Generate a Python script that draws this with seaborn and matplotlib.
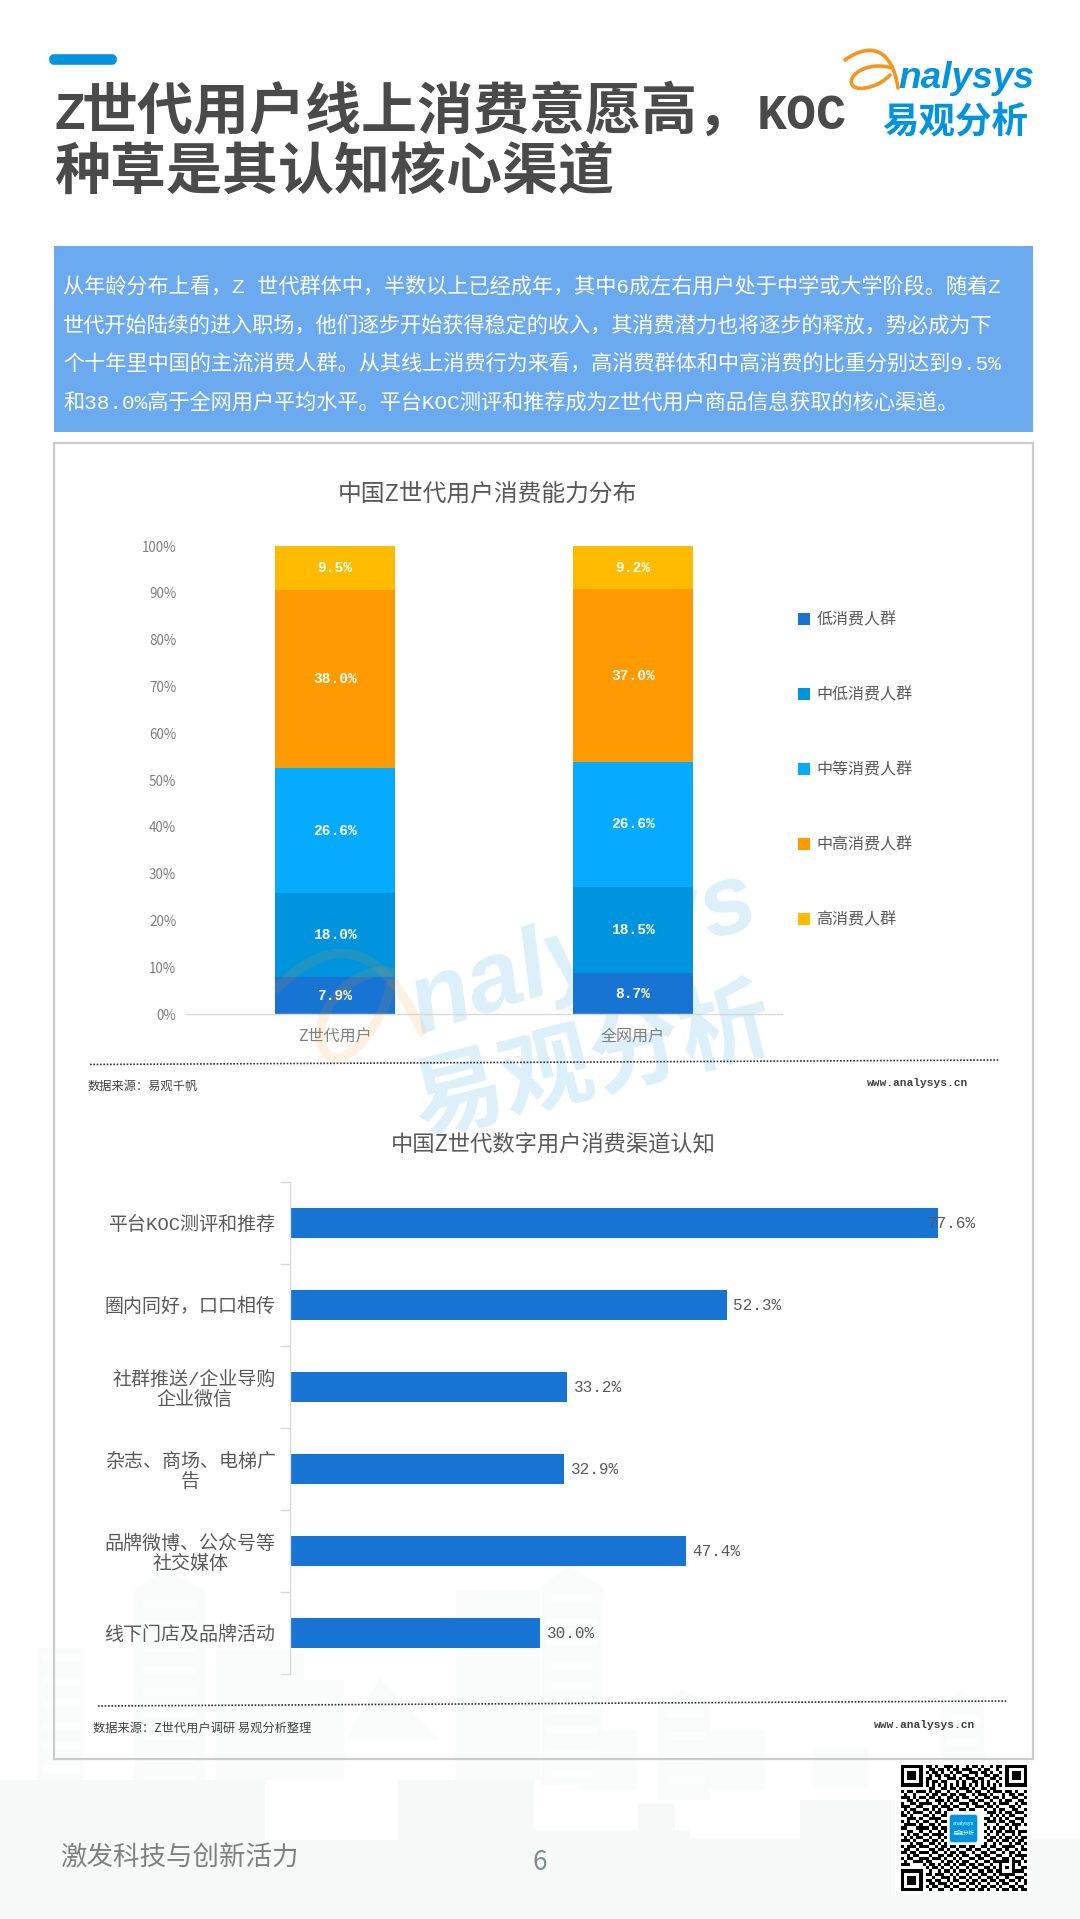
import matplotlib
matplotlib.use("Agg")
import matplotlib.pyplot as plt
import seaborn as sns
import numpy as np
from matplotlib.patches import Rectangle, FancyBboxPatch, PathPatch, Polygon
from matplotlib.path import Path

# chart 1: stacked share by user group
groups = ['Z世代用户', '全网用户']
tiers = ['低消费人群', '中低消费人群', '中等消费人群', '中高消费人群', '高消费人群']
low = [7.9, 8.7]
mid_low = [18.0, 18.5]
mid = [26.6, 26.6]
mid_high = [38.0, 37.0]
high = [9.5, 9.2]
tier_colors = ['#1874D2', '#0094DE', '#06ABFF', '#FF9A00', '#FFBB00']
pct_ticks = [0, 10, 20, 30, 40, 50, 60, 70, 80, 90, 100]

# chart 2: channels
channels = ['平台KOC测评和推荐', '圈内同好\uff0c口口相传', '社群推送/企业导购\n企业微信',
            '杂志、商场、电梯广\n告', '品牌微博、公众号等\n社交媒体', '线下门店及品牌活动']
channel_values = [77.6, 52.3, 33.2, 32.9, 47.4, 30.0]

body_lines = [
    '从年龄分布上看\uff0cZ 世代群体中\uff0c半数以上已经成年\uff0c其中6成左右用户处于中学或大学阶段。随着Z',
    '世代开始陆续的进入职场\uff0c他们逐步开始获得稳定的收入\uff0c其消费潜力也将逐步的释放\uff0c势必成为下',
    '个十年里中国的主流消费人群。从其线上消费行为来看\uff0c高消费群体和中高消费的比重分别达到9.5%',
    '和38.0%高于全网用户平均水平。平台KOC测评和推荐成为Z世代用户商品信息获取的核心渠道。',
]

qr_rows = [
    '11111110110100111010010110100101101111111',
    '10000010011011010110111001011001001000001',
    '10111010101101001011001110110100101011101',
    '10111010010110110100110010011011001011101',
    '10111010110010011101011101100110101011101',
    '10000010101101100010100110101001001000001',
    '11111110101010101010101010101010101111111',
    '00000000011001101101110100110110000000000',
    '10110111010110010010011011001011101101001',
    '01001000101101101101100101110100010110110',
    '11101011011010011010110010011011010011001',
    '00110100100111010110001101100100101100110',
    '10011011110010101001110110011010111001011',
    '11100110001101110110010011101101000110100',
    '01011001101010011001101100010010110011001',
    '10101110010110100000000000001110101101110',
    '11010001101001100000000000000101010110001',
    '00111010011110000000000000011010101001110',
    '10100101100101100000000000001110110110010',
    '01111010011010000000000000010001001011101',
    '11000111101101100000000000001010110101000',
    '00110010010010100000000000010101101110111',
    '10101101101111000000000000001001010010100',
    '01010110010010100000000000010110101101011',
    '11101001101101000000000000001101011010110',
    '00010110011010100000000000010010100101101',
    '10111011100101101101101100110110011110010',
    '01100100011011010010011011001001101001011',
    '11011011101100101101100100110110010110100',
    '00101100010011011010110011011001100101111',
    '10110011101110100101001101100110011010010',
    '01001110110001011010110010011011111011101',
    '11100001011010110101101101100100100010100',
    '00000000101101001010010110011010101010011',
    '11111110010010110101101001101101100011110',
    '10000010110111001010010110110010111110001',
    '10111010001001110101101001001101001001110',
    '10111010110110010110010110110110110110101',
    '10111010011011101001101101001001011001001',
    '10000010101100110110010010110110100110110',
    '11111110010011001001101101101001011011011',
]

MONO = ['Liberation Mono', 'Noto Sans CJK SC', 'DejaVu Sans']
CJK = ['Noto Sans CJK SC', 'DejaVu Sans']
W, H = 1080, 1919


def pt(px):
    return px * 72 / 100


def axes_px(left, top, right, bottom, **kw):
    return fig.add_axes([left / W, 1 - bottom / H, (right - left) / W, (bottom - top) / H], **kw)


def swoosh(ax, arm, loop, width, **kw):
    # orange curl of the logo, two cubic strokes
    for pts in (arm, loop):
        codes = [Path.MOVETO] + [Path.CURVE4] * (len(pts) - 1)
        ax.add_patch(PathPatch(Path(pts, codes), fc='none', ec='#F7941D', lw=width, capstyle='round', **kw))


sns.set_theme(style='white')
plt.rcParams['font.family'] = MONO
plt.rcParams['axes.unicode_minus'] = False

fig = plt.figure(figsize=(W / 100, H / 100), dpi=100, facecolor='white')

# page layer in pixel coordinates
bg = axes_px(0, 0, W, H, zorder=0)
bg.set_xlim(0, W)
bg.set_ylim(H, 0)
bg.axis('off')

# faint skyline behind the lower part of the page
pale = '#FAFCFC'
tint = '#F5FAF8'
upper = [(38, 1648, 45, 140), (134, 1588, 71, 200), (215, 1650, 90, 130), (300, 1680, 45, 100),
         (455, 1590, 85, 190), (541, 1585, 62, 200), (658, 1700, 52, 100), (941, 1705, 44, 90),
         (579, 1730, 58, 60), (710, 1730, 55, 60), (813, 1748, 55, 40)]
lower = [(0, 1780, 265, 139), (265, 1840, 135, 79), (398, 1780, 136, 139), (534, 1830, 156, 89),
         (638, 1803, 37, 116), (690, 1838, 110, 81), (800, 1800, 95, 119), (895, 1838, 185, 81)]
for x, y, w, h in upper:
    bg.add_patch(Rectangle((x, y), w, h, fc=pale, ec='none', zorder=1))
for pts in [[(134, 1590), (165, 1570), (205, 1590)], [(541, 1587), (568, 1565), (603, 1587)],
            [(658, 1702), (682, 1690), (710, 1702)], [(941, 1707), (961, 1690), (985, 1707)],
            [(345, 1740), (379, 1677), (440, 1740)]]:
    bg.add_patch(Polygon(pts, fc=pale, ec='none', zorder=1))
for x, y, w, h in lower:
    bg.add_patch(Rectangle((x, y), w, h, fc=tint, ec='none', zorder=1.2))
for x0, w0, y0, y1 in [(143, 54, 1600, 1780), (545, 54, 1595, 1780), (665, 40, 1710, 1790), (945, 36, 1715, 1780), (42, 38, 1655, 1775)]:
    for yy in range(y0, y1, 22):
        bg.add_patch(Rectangle((x0, yy), w0, 8, fc='white', ec='none', alpha=0.6, zorder=1.1))

# header
bg.add_patch(FancyBboxPatch((52, 57), 62, 5, boxstyle='round,pad=0,rounding_size=2',
                            mutation_aspect=1, fc='#0094DE', ec='#0094DE', lw=4, zorder=3))
title_style = dict(fontweight='bold', color='#4A4A4A', va='baseline', ha='left', zorder=3)
bg.text(54, 129, 'Z', family=['Liberation Sans'], fontsize=pt(50), **title_style)
bg.text(82, 129, '世代用户线上消费意愿高\uff0c', family=CJK, fontsize=pt(56), **title_style)
bg.text(757, 129, 'KOC', family=['Liberation Mono'], fontsize=pt(50), **title_style)
bg.text(54, 189, '种草是其认知核心渠道', family=CJK, fontsize=pt(56), **title_style)

# logo
swoosh(bg, [(845, 60), (870, 42), (892, 48), (898, 88)],
       [(892, 68), (865, 60), (845, 78), (853, 86), (860, 92), (880, 86), (890, 75)], 2.6, zorder=3)
bg.text(898, 88, 'nalysys', family=['Liberation Sans'], style='italic', fontweight='bold', fontsize=pt(37),
        color='#0094DE', va='baseline', ha='left', zorder=3)
bg.text(955, 122, '易观分析', family=CJK, fontweight='bold', fontsize=pt(36.5), color='#0094DE',
        va='center', ha='center', zorder=3)

# watermark, under the bars
bg.text(591, 978, 'nalysys', family=['Liberation Sans'], style='italic', fontweight='bold', fontsize=pt(98),
        color='#0094DE', alpha=0.14, rotation=18, rotation_mode='anchor', ha='center', va='baseline', zorder=2)
bg.text(593, 1063, '易观分析', family=CJK, fontweight='bold', fontsize=pt(92), color='#0094DE',
        alpha=0.14, rotation=14, rotation_mode='anchor', ha='center', va='center', zorder=2)

# summary box
bg.add_patch(Rectangle((54, 246), 979, 186, fc='#6BAAEE', ec='none', zorder=3))
for line, y in zip(body_lines, [286, 325, 363, 402]):
    bg.text(63, y, line, fontsize=pt(21.2), color='white', va='center', ha='left', zorder=4)

# chart frame
bg.add_patch(Rectangle((54, 443), 979, 1316, fc='none', ec='#CCCCCC', lw=1.6, zorder=3))

# source rows and dotted rules
bg.plot([90, 1000], [1064.5, 1060], ls=(0, (1, 1)), color='#333333', lw=1.2, zorder=3)
bg.plot([98, 1008], [1706, 1701], ls=(0, (1, 1)), color='#333333', lw=1.2, zorder=3)
bg.text(87, 1086, '数据来源\uff1a易观千帆', family=CJK, fontsize=pt(12.2), fontweight='medium', color='#404040', va='center', zorder=3)
bg.text(93, 1728, '数据来源\uff1aZ世代用户调研 易观分析整理', family=CJK, fontsize=pt(12.2), fontweight='medium', color='#404040', va='center', zorder=3)
bg.text(867, 1083, 'www.analysys.cn', fontsize=pt(11.3), fontweight='bold', color='#404040', va='center', zorder=3)
bg.text(874, 1725, 'www.analysys.cn', fontsize=pt(11.3), fontweight='bold', color='#404040', va='center', zorder=3)

# footer
bg.text(60, 1858, '激发科技与创新活力', family=CJK, fontsize=pt(26.5), color='#808080', va='center', zorder=3)
bg.text(540, 1862, '6', family=CJK, fontsize=pt(26), color='#7F8C8D', va='center', ha='center', zorder=3)
bg.add_patch(Rectangle((895, 1762), 137, 133, fc='white', ec='none', zorder=3))

# stacked bars
ax1 = axes_px(186, 546, 782, 1014, zorder=2)
ax1.patch.set_alpha(0)
bottom = np.zeros(len(groups))
for series, tier, color in zip([low, mid_low, mid, mid_high, high], tiers, tier_colors):
    sns.barplot(x=groups, y=series, bottom=bottom, color=color, width=0.403, saturation=1,
                linewidth=0, legend=False, ax=ax1)
    ax1.bar_label(ax1.containers[-1], fmt='%.1f%%', label_type='center', color='white',
                  fontsize=pt(14.5), fontweight='bold')
    bottom = bottom + np.array(series)
ax1.set_ylim(0, 100)
ax1.set_xlim(-0.5, 1.5)
ax1.set_yticks(pct_ticks, [f'{v}%' for v in pct_ticks])
ax1.tick_params(axis='y', length=0, pad=7, labelsize=pt(13.5), labelcolor='#7F7F7F')
ax1.tick_params(axis='x', length=0, pad=10, labelsize=pt(16), labelcolor='#7F7F7F')
for lab in ax1.get_xticklabels() + ax1.get_yticklabels():
    lab.set_fontfamily(CJK)
ax1.set_xlabel('')
ax1.set_ylabel('')
sns.despine(ax=ax1, left=True)
ax1.spines['bottom'].set_color('#D9D9D9')
ax1.spines['bottom'].set_linewidth(1)
ax1.grid(False)
handles = [c.patches[0] for c in ax1.containers]
fig.legend(handles, tiers, loc='upper left', bbox_to_anchor=(798 / W, 1 - 611.5 / H), frameon=False,
           prop={'family': CJK, 'size': pt(16)}, labelcolor='#595959', handlelength=0.75,
           handleheight=0.75, handletextpad=0.4, labelspacing=3.625, borderpad=0, borderaxespad=0)
fig.text(487 / W, 1 - 494 / H, '中国Z世代用户消费能力分布', family=CJK, fontsize=pt(23.8), color='#595959',
         ha='center', va='center')

# channel bars
ax2 = axes_px(289.5, 1182, 958, 1674, zorder=2)
ax2.patch.set_alpha(0)
sns.barplot(x=channel_values, y=channels, color='#1874D2', width=0.365, saturation=1, linewidth=0, ax=ax2)
ax2.set_xlim(0, 80)
ax2.set_ylim(5.5, -0.5)
value_labels = ax2.bar_label(ax2.containers[0], fmt='%.1f%%', padding=5, color='#595959', fontsize=pt(16))
# the longest bar's label sits over the bar end in the original
value_labels[0].xyann = (-7, 0)
ax2.set_xticks([])
ax2.set_yticks(np.arange(0.5, 5.5, 1).tolist() + [-0.5, 5.5], minor=True)
ax2.tick_params(axis='y', which='major', length=0, pad=10, labelsize=pt(19), labelcolor='#595959')
ax2.tick_params(axis='y', which='minor', left=True, length=7, width=1, color='#D9D9D9')
for lab in ax2.get_yticklabels():
    lab.set_fontfamily(MONO)
    lab.set_multialignment('center')
    lab.set_linespacing(1.15)
ax2.set_xlabel('')
ax2.set_ylabel('')
sns.despine(ax=ax2, bottom=True)
ax2.spines['left'].set_color('#D9D9D9')
ax2.spines['left'].set_linewidth(1)
ax2.grid(False)
fig.text(553 / W, 1 - 1144 / H, '中国Z世代数字用户消费渠道认知', family=CJK, fontsize=pt(22.3), color='#595959',
         ha='center', va='center')

# orange curl of the watermark lies over the bars
wm = axes_px(0, 0, W, H, zorder=5)
wm.set_xlim(0, W)
wm.set_ylim(H, 0)
wm.axis('off')
wm.patch.set_alpha(0)
swoosh(wm, [(277, 988), (320, 945), (375, 925), (422, 1032)],
       [(391, 972), (350, 965), (305, 1020), (325, 1053), (345, 1075), (385, 1020), (391, 984)], 7, alpha=0.13)

# QR code
qr = np.array([[int(c) for c in row.ljust(41, '0')[:41]] for row in qr_rows])
qr_ax = axes_px(901, 1765, 1027, 1891, zorder=6)
sns.heatmap(qr, cmap=['white', 'black'], cbar=False, xticklabels=False, yticklabels=False, square=False, ax=qr_ax)
top = axes_px(0, 0, W, H, zorder=7)
top.set_xlim(0, W)
top.set_ylim(H, 0)
top.axis('off')
top.patch.set_alpha(0)
top.add_patch(FancyBboxPatch((949, 1814), 29, 29, boxstyle='round,pad=0,rounding_size=3',
                             mutation_aspect=1, fc='#0094DE', ec='white', lw=1))
top.text(963.5, 1823, 'analysys', family=['Liberation Sans'], fontsize=4, color='white', ha='center', va='center')
top.text(963.5, 1833, '易观分析', family=CJK, fontsize=4, color='white', ha='center', va='center')

fig.savefig('out.png', dpi=100)
